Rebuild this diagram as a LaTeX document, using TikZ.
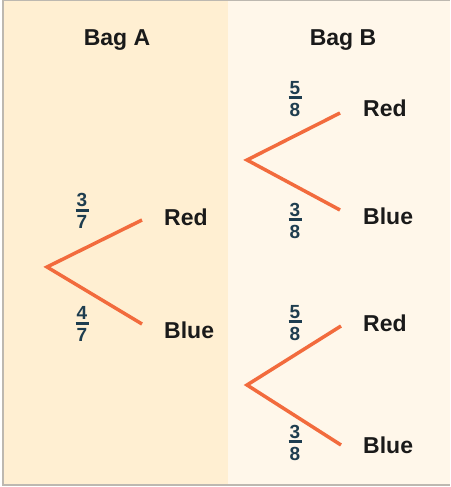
\documentclass[tikz,border=0pt]{standalone}
\usepackage{fontspec}
\setmainfont{Liberation Sans}
\usetikzlibrary{positioning}
\definecolor{panelA}{HTML}{FFEFD2}
\definecolor{panelB}{HTML}{FFF7EA}
\definecolor{frameCol}{HTML}{BDB8B0}
\definecolor{branchCol}{HTML}{F26B3D}
\definecolor{fracCol}{HTML}{1E3D4F}
\definecolor{textCol}{HTML}{1A1A1A}
\tikzset{
  branch/.style={branchCol, line width=3.5pt},
  outcome/.style={anchor=west, inner sep=0pt, font=\fontsize{23}{24}\selectfont\bfseries, text=textCol},
  bagtitle/.style={inner sep=0pt, font=\fontsize{23}{24}\selectfont\bfseries, text=textCol},
  prob/.style={inner sep=0pt, align=center, text=fracCol,
    font=\fontsize{19}{11.3}\selectfont\bfseries},
}
\newcommand{\probfrac}[2]{#1\\\rule[6.3pt]{13pt}{3pt}\\[-3.3pt]#2}

\begin{document}
\begin{tikzpicture}[x=1pt, y=-1pt]
  \useasboundingbox (0,0) rectangle (450,487);

  % Panels
  \fill[panelA] (3,1) rectangle (228,485);
  \fill[panelB] (228,1) rectangle (450,485);
  \draw[frameCol, line width=1.5pt] (450,0.75) -- (3,0.75) -- (3,485) -- (450,485);

  \node[bagtitle] (bagA) at (117,40) {Bag A};
  \node[bagtitle] (bagB) at (343,40) {Bag B};

  % Bag A
  \coordinate (rootA) at (47,267);
  \coordinate (endAr) at (142,220);
  \coordinate (endAb) at (142,324);
  \draw[branch] (endAr) -- (rootA) -- (endAb);
  \node[outcome] (redA) at (164,217) {Red};
  \node[outcome] (blueA) at (164,330) {Blue};
  \node[prob] (pAr) at (82,211) {\probfrac{3}{7}};
  \node[prob] (pAb) at (82,324) {\probfrac{4}{7}};

  % Bag B, after red
  \coordinate (rootB1) at (247,160);
  \coordinate (endB1r) at (340,113);
  \coordinate (endB1b) at (340,210);
  \draw[branch] (endB1r) -- (rootB1) -- (endB1b);
  \node[outcome] (redB1) at (363,108) {Red};
  \node[outcome] (blueB1) at (363,216) {Blue};
  \node[prob] (pB1r) at (295,99) {\probfrac{5}{8}};
  \node[prob] (pB1b) at (295,221) {\probfrac{3}{8}};

  % Bag B, after blue
  \coordinate (rootB2) at (247,385);
  \coordinate (endB2r) at (341,326);
  \coordinate (endB2b) at (341,445);
  \draw[branch] (endB2r) -- (rootB2) -- (endB2b);
  \node[outcome] (redB2) at (363,323) {Red};
  \node[outcome] (blueB2) at (363,445) {Blue};
  \node[prob] (pB2r) at (295,323) {\probfrac{5}{8}};
  \node[prob] (pB2b) at (295,443) {\probfrac{3}{8}};

\end{tikzpicture}
\end{document}
